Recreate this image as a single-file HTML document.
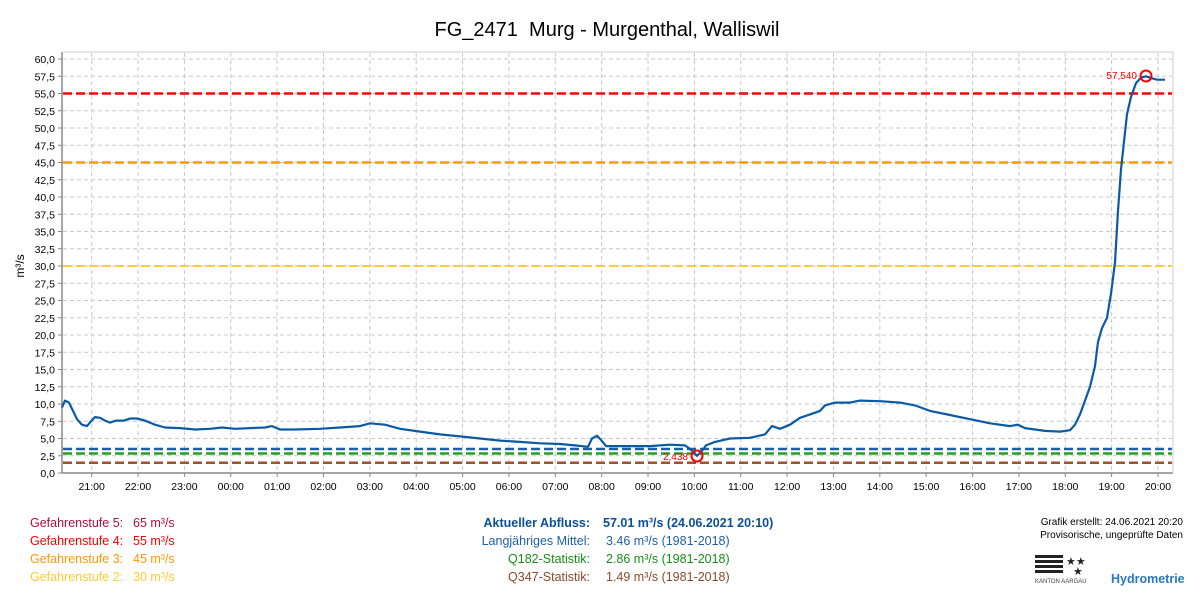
<!DOCTYPE html>
<html><head><meta charset="utf-8"><style>
html,body{margin:0;padding:0;background:#fff;width:1200px;height:600px;overflow:hidden}
svg{display:block;font-family:"Liberation Sans",sans-serif}
</style></head><body>
<svg id="s" width="1200" height="600" viewBox="0 0 1200 600" xmlns="http://www.w3.org/2000/svg">
<text x="607" y="36" font-size="20" text-anchor="middle" fill="#000" style="white-space:pre">FG_2471  Murg - Murgenthal, Walliswil</text>
<g id="grid"></g>
<line x1="62" y1="473" x2="1173" y2="473" stroke="#888" stroke-width="1.5"/>
<line x1="62" y1="52" x2="62" y2="473" stroke="#888" stroke-width="1.5"/>
<line x1="1173" y1="52" x2="1173" y2="473" stroke="#ccc" stroke-width="1"/>
<line x1="62" y1="52" x2="1173" y2="52" stroke="#ccc" stroke-width="1"/>
<text transform="translate(24,266) rotate(-90)" font-size="12" text-anchor="middle">m³/s</text>
<g stroke-width="2.5" stroke-dasharray="9,4" fill="none">
<line x1="63" x2="1172" y1="93.5" y2="93.5" stroke="#ff0000"/>
<line x1="63" x2="1172" y1="162.5" y2="162.5" stroke="#ff9900"/>
<line x1="63" x2="1172" y1="266" y2="266" stroke="#ffcc33" stroke-width="2"/>
<line x1="63" x2="1172" y1="449" y2="449" stroke="#1f5fa8"/>
<line x1="63" x2="1172" y1="453.5" y2="453.5" stroke="#22a022"/>
<line x1="63" x2="1172" y1="462.7" y2="462.7" stroke="#a0522d"/>
</g>
<polyline id="data" fill="none" stroke="#0b5aa6" stroke-width="2.2" stroke-linejoin="round"/>
<circle cx="1146" cy="76" r="5.5" fill="none" stroke="#ff0000" stroke-width="2"/>
<text x="1137" y="79" font-size="10" fill="#ff0000" text-anchor="end">57,540</text>
<circle cx="697" cy="456" r="5.5" fill="none" stroke="#ff0000" stroke-width="2"/>
<text x="688" y="460" font-size="10" fill="#ff0000" text-anchor="end">2,438</text>
<g font-size="12.5">
<text x="30" y="527" fill="#b0103a">Gefahrenstufe 5:</text><text x="133" y="527" fill="#b0103a">65 m³/s</text>
<text x="30" y="545" fill="#ff0000">Gefahrenstufe 4:</text><text x="133" y="545" fill="#ff0000">55 m³/s</text>
<text x="30" y="563" fill="#ff9900">Gefahrenstufe 3:</text><text x="133" y="563" fill="#ff9900">45 m³/s</text>
<text x="30" y="581" fill="#ffcc33">Gefahrenstufe 2:</text><text x="133" y="581" fill="#ffcc33">30 m³/s</text>
<text x="590" y="527" fill="#0b4f9c" font-weight="bold" text-anchor="end">Aktueller Abfluss:</text><text x="603" y="527" fill="#0b4f9c" font-weight="bold">57.01 m³/s (24.06.2021 20:10)</text>
<text x="590" y="545" fill="#1f5fa8" text-anchor="end">Langjähriges Mittel:</text><text x="606" y="545" fill="#1f5fa8">3.46 m³/s (1981-2018)</text>
<text x="590" y="563" fill="#159015" text-anchor="end">Q182-Statistik:</text><text x="606" y="563" fill="#159015">2.86 m³/s (1981-2018)</text>
<text x="590" y="581" fill="#8b4a2b" text-anchor="end">Q347-Statistik:</text><text x="606" y="581" fill="#8b4a2b">1.49 m³/s (1981-2018)</text>
</g>
<g font-size="10" fill="#000" text-anchor="end">
<text x="1183" y="525">Grafik erstellt: 24.06.2021 20:20</text>
<text x="1183" y="538">Provisorische, ungeprüfte Daten</text>
</g>
<g fill="#222">
<rect x="1035" y="555" width="28" height="3"/><rect x="1035" y="560" width="28" height="3"/><rect x="1035" y="565" width="28" height="3"/><rect x="1035" y="570" width="28" height="3"/>
</g>
<text x="1066" y="565" font-size="11" fill="#222">★★</text>
<text x="1073" y="575" font-size="11" fill="#222">★</text>
<text x="1035" y="583" font-size="6" fill="#444">KANTON AARGAU</text>
<text x="1111" y="583" font-size="12.5" font-weight="bold" fill="#2a78c0">Hydrometrie</text>
</svg>
<script>
var g=document.getElementById('grid'),h='';
for(var i=0;i<=24;i++){var v=i*2.5,y=473-v*6.9;
 if(i>0)h+='<line x1="63" x2="1172" y1="'+y+'" y2="'+y+'" stroke="#c8c8c8" stroke-dasharray="4,3"/>';
 h+='<line x1="58" x2="62" y1="'+y+'" y2="'+y+'" stroke="#888"/>';
 h+='<text x="55" y="'+(y+4)+'" font-size="10.5" text-anchor="end">'+v.toFixed(1).replace('.',',')+'</text>';}
var hrs=['21','22','23','00','01','02','03','04','05','06','07','08','09','10','11','12','13','14','15','16','17','18','19','20'];
for(var k=0;k<24;k++){var x=91.7+46.36*k;
 h+='<line y1="53" y2="472" x1="'+x+'" x2="'+x+'" stroke="#c8c8c8" stroke-dasharray="4,3"/>';
 h+='<line y1="473" y2="477" x1="'+x+'" x2="'+x+'" stroke="#888"/>';
 h+='<text x="'+x+'" y="490" font-size="10.5" text-anchor="middle">'+hrs[k]+':00</text>';}
g.innerHTML=h;
var d=[[62,9.5],[65,10.5],[69,10.2],[73,9],[77,7.8],[82,7],[87,6.8],[91,7.5],[95,8.1],[100,8],[105,7.6],[110,7.3],[116,7.6],[124,7.6],[130,7.9],[137,7.9],[145,7.6],[155,7],[165,6.6],[180,6.5],[195,6.3],[210,6.4],[222,6.6],[235,6.4],[250,6.5],[265,6.6],[272,6.8],[280,6.3],[295,6.3],[320,6.4],[340,6.6],[360,6.8],[370,7.2],[385,7],[400,6.4],[420,6],[440,5.6],[460,5.3],[480,5],[500,4.7],[520,4.5],[540,4.3],[560,4.2],[575,4.0],[588,3.8],[592,5],[597,5.4],[601,4.8],[606,3.9],[630,3.9],[650,3.9],[670,4.1],[685,4],[690,3.5],[697,2.5],[702,3.2],[706,4],[715,4.5],[730,5],[750,5.1],[765,5.6],[772,6.8],[780,6.4],[790,7],[800,8],[810,8.5],[820,9],[825,9.8],[835,10.2],[850,10.2],[860,10.5],[880,10.4],[900,10.2],[915,9.8],[930,9],[950,8.4],[970,7.8],[990,7.2],[1010,6.8],[1018,7],[1025,6.5],[1045,6.1],[1060,6],[1070,6.2],[1075,7],[1080,8.5],[1085,10.5],[1090,12.5],[1095,15.5],[1098,19],[1102,21],[1107,22.5],[1111,26],[1115,30.5],[1118,38],[1121,44],[1124,48],[1127,52],[1131,54.5],[1136,56.5],[1141,57.3],[1146,57.5],[1152,57.2],[1157,57],[1165,57]];
document.getElementById('data').setAttribute('points',d.map(function(p){return p[0]+','+(473-p[1]*6.9).toFixed(1)}).join(' '));
</script>
</body></html>
